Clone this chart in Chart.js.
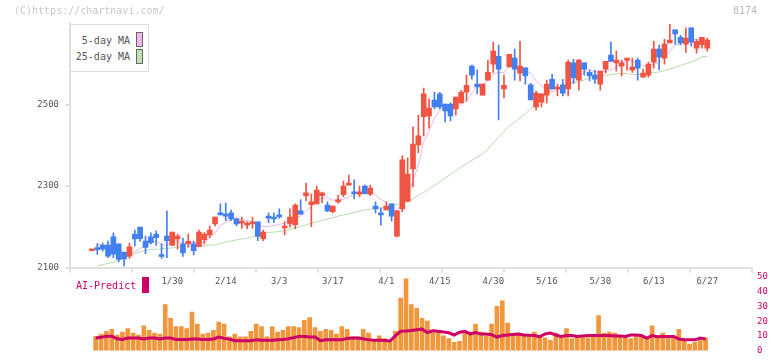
<!DOCTYPE html>
<html>
<head>
<meta charset="utf-8">
<script src="https://cdn.jsdelivr.net/npm/chart.js@4.4.0/dist/chart.umd.min.js"></script>
<style>
  html, body { margin: 0; padding: 0; background: #fff; }
  #wrap { position: relative; width: 772px; height: 361px; overflow: hidden; font-family: "DejaVu Sans Mono", monospace; }
  canvas { position: absolute; left: 0; top: 0; }
  .txt { position: absolute; white-space: nowrap; line-height: 1; }
  #copy { left: 14px; top: 6px; font-size: 10px; color: #c8c8c8; }
  #code { left: 733px; top: 6px; font-size: 10px; color: #bbb; }
  #legend { position: absolute; left: 70px; top: 24px; width: 77px; height: 46px; border: 1px solid #ddd; background: #fff; }
  #legend .lt { position: absolute; right: 18px; font-size: 10px; color: #555; line-height: 1; }
  #legend .sw { position: absolute; left: 65px; width: 5px; height: 13px; border: 1px solid #666; }
  #ai { left: 76px; top: 281px; font-size: 10px; color: #cc0066; }
  #aisw { position: absolute; left: 142px; top: 277px; width: 7px; height: 16px; background: #cc0066; }
</style>
</head>
<body>
<div id="wrap">
  <canvas id="vol" width="772" height="361"></canvas>
  <canvas id="main" width="772" height="300"></canvas>
  <div class="txt" id="copy">(C)https://chartnavi.com/</div>
  <div class="txt" id="code">8174</div>
  <div id="legend">
    <div class="lt" style="top:11px">5-day MA</div>
    <div class="sw" style="top:7px;background:#f0b8ee"></div>
    <div class="lt" style="top:27px">25-day MA</div>
    <div class="sw" style="top:24px;background:#bfe0b4"></div>
  </div>
  <div class="txt" id="ai">AI-Predict</div>
  <div id="aisw"></div>
</div>
<script>
// ===== data =====
const dateLabels = ["1/30", "2/14", "3/3", "3/17", "4/1", "4/15", "4/30", "5/16", "5/30", "6/13", "6/27"];
const labelIndex = [15, 25, 35, 45, 55, 65, 75, 85, 95, 105, 115];
const priceTicks = [2100, 2300, 2500];
const volTicks = [0, 10, 20, 30, 40, 50];

const open = [2141,2149,2155,2155,2175,2158,2138,2128,2182,2199, 2165,2175,2182,2131,2177,2154,2170,2158,2158,2158,
  2151,2168,2180,2207,2234,2231,2234,2219,2209,2204, 2207,2212,2171,2226,2224,2229,2197,2207,2205,2239,
  2276,2254,2256,2276,2253,2237,2261,2279,2302,2284, 2280,2300,2280,2251,2234,2241,2256,2177,2244,2262,
  2342,2401,2470,2472,2511,2526,2501,2501,2489,2504, 2530,2594,2550,2523,2560,2599,2618,2538,2592,2614,
  2577,2590,2548,2494,2506,2523,2562,2538,2548,2538, 2602,2560,2602,2579,2572,2550,2587,2621,2602,2594,
  2609,2584,2609,2567,2572,2604,2636,2614,2651,2683, 2665,2648,2688,2638,2647,2638];
const high = [2143,2159,2160,2165,2185,2158,2138,2160,2192,2199, 2177,2185,2190,2158,2239,2187,2182,2172,2182,2165,
  2192,2186,2202,2224,2256,2258,2241,2221,2224,2212, 2224,2212,2192,2234,2234,2244,2212,2244,2256,2266,
  2307,2280,2300,2285,2261,2251,2278,2312,2327,2315, 2300,2302,2302,2261,2246,2261,2256,2239,2374,2369,
  2445,2474,2540,2513,2530,2530,2501,2504,2518,2535, 2572,2597,2585,2550,2609,2653,2646,2572,2623,2636,
  2655,2590,2552,2533,2526,2560,2574,2550,2562,2609, 2611,2611,2602,2584,2584,2582,2606,2653,2631,2609,
  2614,2614,2614,2587,2604,2655,2646,2660,2697,2683, 2670,2688,2688,2660,2665,2663];
const low = [2141,2132,2140,2124,2124,2114,2104,2122,2153,2164, 2134,2158,2154,2122,2124,2154,2145,2127,2149,2131,
  2151,2158,2173,2202,2229,2215,2215,2202,2196,2195, 2196,2166,2166,2210,2210,2221,2180,2199,2195,2231,
  2264,2200,2256,2259,2237,2234,2258,2274,2302,2268, 2273,2281,2276,2234,2204,2241,2214,2175,2237,2262,
  2298,2382,2423,2442,2489,2489,2457,2460,2474,2504, 2508,2562,2526,2523,2560,2579,2462,2516,2592,2560,
  2558,2550,2511,2486,2494,2504,2538,2521,2521,2521, 2552,2535,2572,2558,2552,2535,2577,2606,2582,2570,
  2584,2579,2560,2567,2567,2589,2585,2599,2651,2648, 2646,2628,2643,2626,2638,2631];
const close = [2143,2144,2145,2128,2133,2120,2121,2151,2170,2171, 2149,2161,2173,2127,2166,2187,2177,2136,2164,2141,
  2187,2182,2192,2224,2229,2226,2219,2207,2214,2209, 2212,2176,2187,2221,2219,2224,2200,2224,2253,2231,
  2283,2261,2290,2283,2239,2251,2266,2300,2305,2281, 2285,2281,2295,2244,2229,2251,2226,2239,2364,2329,
  2403,2423,2526,2491,2494,2494,2484,2472,2518,2530, 2547,2572,2543,2550,2579,2631,2587,2547,2623,2587,
  2594,2570,2511,2528,2526,2550,2538,2540,2528,2604, 2565,2609,2587,2570,2562,2582,2606,2606,2609,2602,
  2614,2592,2589,2577,2599,2636,2616,2648,2658,2673, 2651,2663,2653,2655,2665,2658];
const ma5 = [null,2158,2152,2145,2138,2134,2129,2131,2139,2147, 2152,2160,2165,2156,2155,2163,2166,2159,2166,2161,
  2161,2162,2173,2185,2203,2211,2218,2221,2219,2215, 2212,2204,2200,2201,2203,2205,2210,2218,2224,2226,
  2238,2250,2264,2270,2271,2265,2266,2268,2272,2281, 2287,2290,2289,2277,2267,2260,2249,2238,2262,2282,
  2312,2352,2409,2434,2467,2486,2498,2487,2492,2500, 2510,2528,2542,2548,2558,2575,2578,2579,2593,2595,
  2588,2584,2577,2558,2546,2537,2531,2536,2536,2552, 2555,2569,2579,2587,2579,2582,2581,2585,2593,2601,
  2607,2607,2601,2595,2594,2599,2603,2615,2631,2646, 2649,2659,2660,2659,2657,2659];
const ma25 = [null,2104,2107,2110,2113,2118,2123,2129,2134,2139, 2142,2144,2145,2146,2147,2148,2150,2152,2152,2153,
  2153,2154,2155,2155,2159,2163,2165,2168,2170,2172, 2176,2180,2185,2186,2187,2188,2191,2193,2197,2201,
  2204,2209,2212,2216,2219,2222,2226,2229,2232,2235, 2238,2241,2243,2245,2247,2250,2252,2255,2258,2262,
  2269,2277,2284,2293,2301,2311,2320,2328,2337,2347, 2355,2363,2371,2379,2390,2406,2420,2434,2447,2457,
  2467,2477,2489,2501,2513,2526,2537,2542,2545,2549, 2553,2555,2560,2565,2569,2570,2572,2573,2575,2576,
  2576,2574,2574,2575,2577,2578,2580,2583,2587,2591, 2596,2600,2604,2610,2617,2618];

// volume panel (one bar per session, drawn on the 0-50 scale)
const volume = [9.6,11.3,13.1,14.4,10.6,12.5,15,11.9,10.6,16.9, 13.75,11.9,11.3,31.25,21.9,16.25,16.25,15,26.25,18.1,
  11.3,11.9,13.75,19.4,18.1,9.4,11.3,9.4,9.4,13.1, 18.1,16.25,9.4,16.25,12.5,13.75,16.25,16.25,15.6,20.6,
  22.5,15.6,13.1,14.4,13.75,11.25,16.25,14.4,9.4,9.4, 14.4,11.9,6.9,10,8.1,6.9,13.1,35.6,48.75,31.25,
  28.75,21.9,20,11.9,12.5,10,8.1,5.6,6.25,11.9, 12.5,18.1,12.5,10,18.1,30,33.75,18.75,11.25,11.9,
  11.25,10.6,12.5,10,8.75,6.9,11.9,9.4,15,8.1, 10,9.4,8.75,10.6,23.75,11.9,12.5,11.9,9.4,9.4,
  8.1,10.6,10,8.75,16.9,10,11.9,9.4,8.75,14.4, 7.5,4.4,5.6,6.9,8.75];
const aiPredict = [8.5,9,9.8,9.8,8,7.5,8.5,8.5,8.5,7.9, 8.5,8.5,7.9,8.5,8.5,7.5,7.5,7.5,7.9,7.9,
  7.5,7.5,7.9,9.2,8.3,7.9,6.7,6.7,6.7,6.7, 7.3,7.1,7.1,7.1,7.3,7.5,8.1,8.8,9.6,9.6,
  9.2,9.2,6.7,7.3,7.3,7.3,7.3,8.3,8.5,8.5, 8.1,7.3,7.1,7.1,6.9,6.5,10,13.1,13.3,13.6,
  14.2,14.6,12.3,13.5,13.1,12.7,12.1,10.6,12.5,13.1, 11.3,12.3,11.3,11.3,10.8,9.2,10.2,10.6,11,11.25,
  10.6,10.4,10.2,9.4,11.3,11.9,10.6,9.6,10.2,10.2, 9.6,10,10.2,10.2,10.2,10.2,10.2,10,10,9.6,
  10.6,10.6,10.2,8.5,10.2,9.4,9.6,9.6,9.6,7.9, 7.3,7.3,7.3,8.5,7.9];

// ===== styles =====
const FONT = "'DejaVu Sans Mono', monospace";
const UP = "#f05442", DOWN = "#4280f0";
const AXIS = "#e0e0e0";
const MAGENTA = "#cc0066";

const candleColor = open.map((o, i) => close[i] >= o ? UP : DOWN);
const xy = (arr) => arr.map((v, i) => ({ x: i, y: v })).filter(p => p.y !== null);

// main chart x range and the 11 equal divisions marked on the axis
const X_MIN = -4.11, X_MAX = 123.36;
const marks = Array.from({ length: 12 }, (_, j) => X_MIN + j * (X_MAX - X_MIN) / 11);

new Chart(document.getElementById("main"), {
  type: "bar",
  data: {
    datasets: [
      { type: "bar", data: open.map((o, i) => ({ x: i, y: [o, close[i]] })),
        backgroundColor: candleColor, barThickness: 5, minBarLength: 2, grouped: false, order: 0 },
      { type: "bar", data: low.map((l, i) => ({ x: i, y: [l, high[i]] })),
        backgroundColor: candleColor, barThickness: 1, grouped: false, order: 1 },
      { type: "line", data: xy(ma5), borderColor: "#eab4ea", borderWidth: 1,
        pointRadius: 0, tension: 0, order: 2 },
      { type: "line", data: xy(ma25), borderColor: "#b6dcaa", borderWidth: 1,
        pointRadius: 0, tension: 0, order: 3 }
    ]
  },
  options: {
    responsive: false, animation: false, devicePixelRatio: 1,
    layout: { padding: { top: 23, right: 20, left: 0, bottom: 0 } },
    plugins: { legend: { display: false }, tooltip: { enabled: false } },
    scales: {
      x: {
        type: "linear", min: X_MIN, max: X_MAX, offset: false,
        afterBuildTicks: (s) => {
          s.ticks = marks.map(v => ({ value: v, mark: true }))
            .concat(labelIndex.map(v => ({ value: v })));
        },
        afterFit: (s) => { s.height = 32.5; },
        grid: { offset: false, drawOnChartArea: false, drawTicks: true, tickLength: 5,
          color: (ctx) => (ctx.tick && ctx.tick.mark) ? AXIS : "rgba(0,0,0,0)", lineWidth: 2 },
        border: { display: true, color: AXIS, width: 2 },
        ticks: {
          autoSkip: false, maxRotation: 0, padding: 4, color: "#555",
          font: { family: FONT, size: 9 },
          callback: (v) => { const j = labelIndex.indexOf(v); return j >= 0 ? dateLabels[j] : ""; }
        }
      },
      y: {
        min: 2100, max: 2700,
        afterBuildTicks: (s) => { s.ticks = priceTicks.map(v => ({ value: v })); },
        afterFit: (s) => { s.width = 70; },
        grid: { drawOnChartArea: false, drawTicks: true, tickLength: 5, color: AXIS, lineWidth: 2 },
        border: { display: true, color: AXIS, width: 2 },
        ticks: { padding: 6, color: "#555", font: { family: FONT, size: 9 }, callback: (v) => String(v) }
      }
    }
  }
});

new Chart(document.getElementById("vol"), {
  type: "bar",
  data: {
    datasets: [
      { type: "line", data: xy(aiPredict), borderColor: MAGENTA, borderWidth: 3,
        pointRadius: 0, tension: 0, order: 0 },
      { type: "bar", data: xy(volume), backgroundColor: "#f0963c",
        barThickness: 4, grouped: false, order: 1 }
    ]
  },
  options: {
    responsive: false, animation: false, devicePixelRatio: 1,
    layout: { padding: { top: 277, right: 0, left: 70, bottom: 4 } },
    plugins: { legend: { display: false }, tooltip: { enabled: false } },
    scales: {
      x: { type: "linear", min: -4.8, max: 122.67, offset: false, display: false },
      y: {
        position: "right", min: 0, max: 50,
        afterBuildTicks: (s) => { s.ticks = volTicks.map(v => ({ value: v })); },
        afterFit: (s) => { s.width = 20; },
        grid: { display: false, drawTicks: false },
        border: { display: false },
        ticks: { padding: 5, color: MAGENTA, font: { family: FONT, size: 9 }, callback: (v) => String(v) }
      }
    }
  }
});
</script>
</body>
</html>
